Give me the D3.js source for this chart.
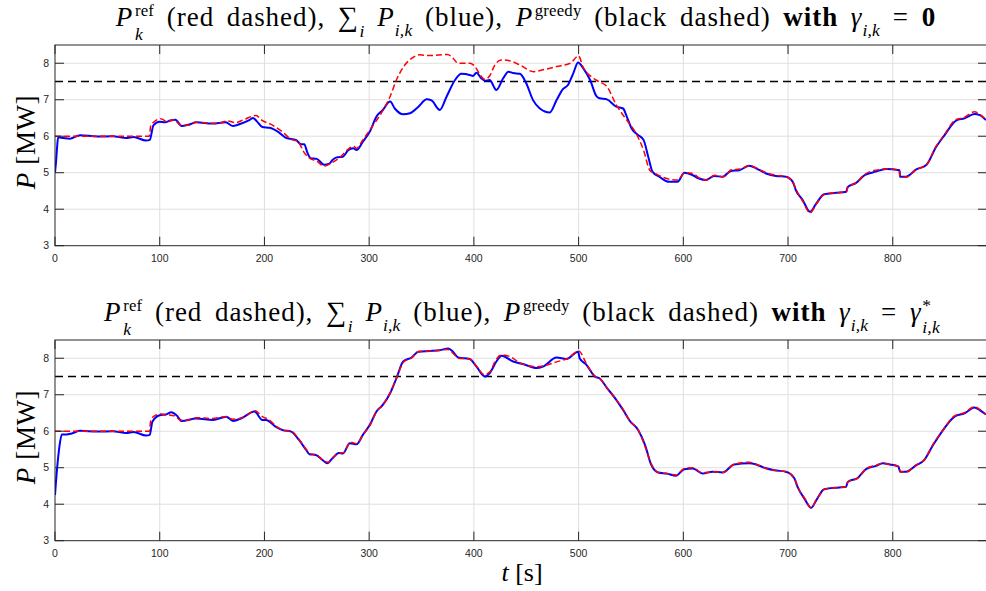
<!DOCTYPE html>
<html>
<head>
<meta charset="utf-8">
<script src="https://cdn.jsdelivr.net/npm/d3@7"></script>
<style>
  body { margin: 0; background: #fff; }
  text { white-space: pre; }
</style>
</head>
<body>
<svg id="chart"></svg>
<script>
// axis ticks
var xTicks = [0, 100, 200, 300, 400, 500, 600, 700, 800];
var yTicks = [3, 4, 5, 6, 7, 8];
var greedyLevel = 7.5;

// top panel: gamma = 0
var topRefT = [0, 90, 91.5, 95, 101, 107, 114, 120, 127, 135, 155, 165, 172, 180, 192, 197, 208, 218, 225, 232, 238, 243, 250, 257, 263, 272, 281, 285, 288, 294, 304, 313, 320, 326, 334, 342, 348, 358, 375, 380, 385, 396, 401, 406, 410.5, 415, 420, 426, 434, 444, 457, 466, 479, 492, 500, 504, 514, 519, 527, 536, 546, 554, 562, 568, 573, 581, 587, 595, 601, 609, 615, 622, 630, 638, 646, 654, 663, 669, 679, 689, 698, 704.5, 708, 714, 721, 727, 735, 746, 756, 757, 765, 773, 784, 794, 806, 807, 813, 822, 832, 841, 849, 860, 868, 878, 883, 889];
var topRefP = [6.0, 6.0, 6.3, 6.4, 6.48, 6.4, 6.45, 6.3, 6.3, 6.38, 6.35, 6.42, 6.37, 6.45, 6.57, 6.45, 6.3, 6.1, 5.92, 5.85, 5.55, 5.4, 5.32, 5.18, 5.25, 5.42, 5.67, 5.73, 5.67, 5.9, 6.31, 6.7, 7.09, 7.54, 7.95, 8.16, 8.23, 8.21, 8.24, 8.14, 8.0, 8.0, 7.91, 7.68, 7.56, 7.65, 7.95, 8.09, 8.07, 7.95, 7.77, 7.82, 7.91, 8.0, 8.2, 7.91, 7.59, 7.5, 7.36, 6.86, 6.44, 6.12, 5.62, 5.07, 4.98, 4.87, 4.82, 4.8, 5.0, 4.98, 4.86, 4.8, 4.93, 4.89, 5.08, 5.1, 5.2, 5.14, 5.0, 4.93, 4.89, 4.75, 4.52, 4.22, 3.9, 4.14, 4.41, 4.45, 4.48, 4.61, 4.72, 4.95, 5.07, 5.1, 5.07, 4.89, 4.88, 5.08, 5.21, 5.71, 6.03, 6.45, 6.51, 6.67, 6.6, 6.46];
var topSumT = [0, 1, 2, 3, 8, 14, 24, 40, 55, 68, 75, 87, 90.5, 94, 100, 105, 110, 115, 121, 128, 135, 150, 163, 170, 178, 186, 189, 193, 198, 205, 214, 221, 230, 235, 238, 241, 244, 250, 257, 262, 265, 269, 275, 280, 285, 288, 294, 300.5, 307, 313, 320, 324.5, 332.5, 339, 347, 355, 359.5, 367.5, 374, 382, 388, 396, 399, 402.5, 407, 410.5, 415, 421.5, 428, 433, 437.5, 444, 450, 456.5, 463, 472.5, 479, 485, 490, 495, 499.5, 504.5, 511, 517, 520, 527, 536, 542.5, 546, 550.5, 557, 562, 566.5, 570.5, 577, 586.5, 594.5, 601, 609, 615, 621.5, 629.5, 637.5, 645.5, 653.5, 663, 669.5, 679, 688.5, 698, 704.5, 707.5, 714, 721, 727, 734.5, 746, 755.5, 757, 765, 773, 784, 793.5, 806.5, 807, 812.5, 822.5, 832, 841.5, 849.5, 860.5, 868.5, 878, 883, 889];
var topSumP = [5.0, 5.3, 5.7, 5.97, 5.95, 5.93, 6.03, 5.99, 6.0, 5.95, 5.98, 5.88, 5.9, 6.3, 6.4, 6.38, 6.43, 6.45, 6.28, 6.32, 6.38, 6.35, 6.38, 6.28, 6.35, 6.45, 6.5, 6.4, 6.25, 6.23, 6.1, 5.95, 5.9, 5.78, 5.78, 5.55, 5.4, 5.38, 5.22, 5.25, 5.35, 5.42, 5.44, 5.62, 5.67, 5.62, 5.85, 6.12, 6.54, 6.72, 6.95, 6.76, 6.6, 6.63, 6.81, 7.01, 6.98, 6.72, 7.09, 7.54, 7.71, 7.68, 7.65, 7.74, 7.59, 7.52, 7.54, 7.27, 7.59, 7.77, 7.73, 7.71, 7.45, 6.99, 6.76, 6.65, 6.99, 7.29, 7.41, 7.73, 8.02, 7.86, 7.54, 7.1, 7.04, 7.01, 6.81, 6.76, 6.54, 6.22, 6.03, 5.9, 5.44, 5.03, 4.89, 4.75, 4.75, 5.0, 4.93, 4.84, 4.8, 4.91, 4.89, 5.05, 5.07, 5.19, 5.12, 4.98, 4.91, 4.89, 4.75, 4.52, 4.25, 3.93, 4.16, 4.41, 4.45, 4.48, 4.61, 4.72, 4.93, 5.03, 5.1, 5.07, 4.89, 4.89, 5.09, 5.21, 5.71, 6.03, 6.43, 6.49, 6.61, 6.58, 6.44];

// bottom panel: gamma = gamma*
var botRefT = [0, 90, 91.5, 95, 101, 107, 114, 120, 127, 135, 150, 163, 170, 180, 191, 198, 204, 212, 218, 226, 233, 240, 244, 250, 256, 261, 266, 272, 276, 282, 288, 294, 301, 307, 313, 320, 326, 333, 341, 347, 358, 368, 375, 380, 385, 396, 402, 410, 415, 421, 426, 434, 445, 460, 468, 479, 490, 500, 508, 516, 520, 527, 536, 543, 549, 557, 563, 570, 576, 584, 593, 601, 609, 618, 628, 638, 649, 663, 669, 677, 687, 698, 706, 709, 716, 722, 727, 735, 749, 756, 757, 767, 775, 784, 790, 797, 806, 807, 813, 822, 830, 838, 848, 859, 868, 878, 883, 889];
var botRefP = [6.0, 6.0, 6.3, 6.42, 6.47, 6.45, 6.42, 6.3, 6.3, 6.37, 6.35, 6.4, 6.33, 6.38, 6.56, 6.4, 6.32, 6.12, 6.03, 6.0, 5.78, 5.5, 5.38, 5.35, 5.2, 5.15, 5.3, 5.4, 5.42, 5.7, 5.66, 5.9, 6.17, 6.54, 6.72, 7.05, 7.45, 7.9, 8.02, 8.18, 8.2, 8.22, 8.24, 8.14, 8.0, 7.98, 7.8, 7.55, 7.62, 7.95, 8.09, 8.05, 7.86, 7.77, 7.8, 7.9, 8.0, 8.2, 7.82, 7.5, 7.45, 7.19, 6.86, 6.58, 6.28, 6.03, 5.62, 5.07, 4.87, 4.84, 4.8, 4.98, 5.0, 4.86, 4.89, 4.87, 5.1, 5.15, 5.1, 5.0, 4.93, 4.89, 4.72, 4.48, 4.16, 3.9, 4.11, 4.41, 4.46, 4.48, 4.61, 4.72, 4.98, 5.07, 5.12, 5.09, 5.03, 4.89, 4.88, 5.07, 5.21, 5.62, 6.03, 6.42, 6.5, 6.67, 6.6, 6.46];
var botSumT = [0, 2, 4, 6.5, 11, 16, 24, 40, 55, 68, 75, 87, 90.5, 93, 100, 106, 111, 116, 121, 135, 151, 163.5, 170, 179, 190.5, 198, 201.5, 211, 217.5, 225.5, 233, 240, 243, 249, 255.5, 260, 265, 271, 275, 281.5, 288, 294, 300.5, 307, 313, 320, 326, 332.5, 340.5, 347, 358, 367.5, 375.5, 380, 385, 396, 402.5, 410.5, 415, 421.5, 426.5, 437.5, 447, 460, 466, 479, 488.5, 499.5, 501, 507.5, 515.5, 520, 527, 536, 542.5, 549, 557, 563.5, 569.5, 576, 584, 593, 601, 609, 618.5, 628, 637.5, 648.5, 663, 669.5, 677.5, 687, 698, 706, 709, 715.5, 722, 727, 734.5, 749, 755.5, 757, 766.5, 774.5, 784, 790.5, 797, 805.5, 807, 812.5, 822.5, 830, 838.5, 848, 859, 868.5, 878, 883, 889];
var botSumP = [4.25, 4.98, 5.53, 5.91, 5.91, 5.94, 6.01, 5.99, 6.0, 5.95, 5.98, 5.88, 5.9, 6.26, 6.44, 6.46, 6.52, 6.44, 6.28, 6.35, 6.31, 6.4, 6.28, 6.37, 6.54, 6.31, 6.31, 6.12, 6.03, 5.99, 5.76, 5.48, 5.37, 5.35, 5.21, 5.12, 5.26, 5.4, 5.39, 5.67, 5.64, 5.9, 6.17, 6.54, 6.72, 7.04, 7.45, 7.91, 8.02, 8.18, 8.2, 8.22, 8.27, 8.18, 8.02, 7.98, 7.77, 7.5, 7.59, 7.91, 8.07, 7.91, 7.84, 7.73, 7.77, 8.02, 7.98, 8.18, 8.0, 7.82, 7.5, 7.45, 7.19, 6.86, 6.58, 6.28, 6.03, 5.62, 5.07, 4.87, 4.84, 4.78, 4.96, 4.98, 4.84, 4.89, 4.87, 5.09, 5.12, 5.09, 5.0, 4.93, 4.89, 4.71, 4.48, 4.16, 3.9, 4.11, 4.41, 4.46, 4.48, 4.61, 4.72, 4.96, 5.05, 5.12, 5.09, 5.03, 4.89, 4.89, 5.07, 5.21, 5.62, 6.03, 6.4, 6.49, 6.65, 6.58, 6.46];

var width = 986, height = 591;
var serif = "'Liberation Serif', 'DejaVu Serif', serif";
var sans = "'Liberation Sans', Arial, sans-serif";
var axisColor = '#262626';

var svg = d3.select('#chart').attr('width', width).attr('height', height);

// shared x scale, both panels use the same range
var x = d3.scaleLinear().domain([0, 890]).range([55, 987]);

function zip(ts, ps) {
    return ts.map(function (t, i) { return [t, ps[i]]; });
}

// lay out a line of "math" text piece by piece, then centre it.
// a piece with stack:true sits over/under the previous one (tspan in same text)
function drawMath(pieces, cx, y, size) {
    var g = svg.append('g').attr('font-family', serif).attr('fill', '#000');
    var cursor = 0, lastStart = 0, lastW = 0, lastDy = 0, lastText = null;
    pieces.forEach(function (p) {
        var fs = size * (p.sc || 1);
        var dy = (p.dy || 0) * size;
        if (p.stack) {
            var ts = lastText.append('tspan')
                .attr('font-size', fs)
                .attr('font-style', p.it ? 'italic' : 'normal')
                .attr('dx', -lastW).attr('dy', dy - lastDy)
                .text(p.s);
            var w = ts.node().getComputedTextLength();
            cursor = Math.max(cursor, lastStart + w);
            return;
        }
        var x0 = cursor + (p.gap || 0) * size;
        var small = (p.sc || 1) < 1;
        var t = g.append('text')
            .attr('x', x0)
            .attr('y', dy)
            .attr('font-size', fs)
            .attr('font-style', p.it ? 'italic' : 'normal')
            .attr('font-weight', p.b ? 'bold' : 'normal')
            .attr('letter-spacing', small ? 0.2 : 0.95)
            .attr('word-spacing', 5)
            .text(p.s);
        lastW = t.node().getComputedTextLength();
        lastStart = x0;
        lastDy = dy;
        lastText = t;
        cursor = x0 + lastW;
    });
    g.attr('transform', 'translate(' + (cx - cursor / 2) + ',' + y + ')');
}

function titlePieces(last) {
    var p = [
        {s: 'P', it: true},
        {s: 'ref', sc: 0.62, dy: -0.38, gap: 0.06},
        {s: 'k', it: true, sc: 0.65, dy: 0.5, stack: true},
        {s: ' (red dashed), '},
        {s: '\u2211', sc: 1.05},
        {s: 'i', it: true, sc: 0.65, dy: 0.4, gap: 0.02},
        {s: ' '},
        {s: 'P', it: true},
        {s: 'i,k', it: true, sc: 0.65, dy: 0.38},
        {s: ' (blue), '},
        {s: 'P', it: true},
        {s: 'greedy', sc: 0.62, dy: -0.38, gap: 0.06},
        {s: ' (black dashed) '},
        {s: 'with', b: true},
        {s: ' '},
        {s: '\u03b3', it: true},
        {s: 'i,k', it: true, sc: 0.65, dy: 0.38},
        {s: ' = '}
    ];
    return p.concat(last);
}

function drawPanel(top, refT, refP, sumT, sumP) {
    var bottom = top + 200.7;
    var y = d3.scaleLinear().domain([3, 8.5]).range([bottom, top]);
    var x0 = x.range()[0], x1 = x.range()[1];
    var g = svg.append('g');

    // grid
    g.selectAll('.gx').data(xTicks.slice(1)).enter().append('line')
        .attr('x1', function (d) { return x(d); }).attr('x2', function (d) { return x(d); })
        .attr('y1', top).attr('y2', bottom)
        .attr('stroke', '#dfdfdf').attr('stroke-width', 1);
    g.selectAll('.gy').data(yTicks.slice(1)).enter().append('line')
        .attr('x1', x0).attr('x2', x1)
        .attr('y1', function (d) { return y(d); }).attr('y2', function (d) { return y(d); })
        .attr('stroke', '#dfdfdf').attr('stroke-width', 1);

    var clipId = 'clip' + Math.round(top);
    svg.append('clipPath').attr('id', clipId).append('rect')
        .attr('x', x0).attr('y', top).attr('width', x1 - x0).attr('height', bottom - top);

    var line = d3.line()
        .x(function (d) { return x(d[0]); })
        .y(function (d) { return y(d[1]); })
        .curve(d3.curveMonotoneX);

    var lines = g.append('g').attr('clip-path', 'url(#' + clipId + ')');

    // greedy level
    lines.append('line')
        .attr('x1', x0).attr('x2', x1)
        .attr('y1', y(greedyLevel)).attr('y2', y(greedyLevel))
        .attr('stroke', '#000').attr('stroke-width', 1.5)
        .attr('stroke-dasharray', '8,5');

    lines.append('path').datum(zip(sumT, sumP))
        .attr('d', line).attr('fill', 'none')
        .attr('stroke', '#0000ff').attr('stroke-width', 2);

    lines.append('path').datum(zip(refT, refP))
        .attr('d', line).attr('fill', 'none')
        .attr('stroke', '#ff0000').attr('stroke-width', 1.5)
        .attr('stroke-dasharray', '6,3');

    // box
    g.append('rect').attr('x', x0).attr('y', top)
        .attr('width', x1 - x0).attr('height', bottom - top)
        .attr('fill', 'none').attr('stroke', axisColor).attr('stroke-width', 1);

    // inward ticks on all four sides
    xTicks.forEach(function (d) {
        g.append('line').attr('x1', x(d)).attr('x2', x(d)).attr('y1', bottom).attr('y2', bottom - 9)
            .attr('stroke', axisColor);
        g.append('line').attr('x1', x(d)).attr('x2', x(d)).attr('y1', top).attr('y2', top + 9)
            .attr('stroke', axisColor);
    });
    yTicks.forEach(function (d) {
        g.append('line').attr('x1', x0).attr('x2', x0 + 9).attr('y1', y(d)).attr('y2', y(d))
            .attr('stroke', axisColor);
        g.append('line').attr('x1', x1).attr('x2', x1 - 9).attr('y1', y(d)).attr('y2', y(d))
            .attr('stroke', axisColor);
    });

    // tick labels
    g.selectAll('.xl').data(xTicks).enter().append('text')
        .attr('x', function (d) { return x(d); }).attr('y', bottom + 16.5)
        .attr('text-anchor', 'middle')
        .attr('font-family', sans).attr('font-size', 10.5).attr('fill', axisColor)
        .text(function (d) { return d; });
    g.selectAll('.yl').data(yTicks).enter().append('text')
        .attr('x', x0 - 6).attr('y', function (d) { return y(d) + 3.7; })
        .attr('text-anchor', 'end')
        .attr('font-family', sans).attr('font-size', 10.5).attr('fill', axisColor)
        .text(function (d) { return d; });

    // y label
    var yl = g.append('text')
        .attr('transform', 'translate(35,' + (top + 97) + ')rotate(-90)')
        .attr('text-anchor', 'middle')
        .attr('font-family', serif).attr('font-size', 27).attr('fill', '#000')
        .attr('letter-spacing', 0.6);
    yl.append('tspan').attr('font-style', 'italic').text('P');
    yl.append('tspan').text(' [MW]');
}

drawPanel(45, topRefT, topRefP, topSumT, topSumP);
drawPanel(340, botRefT, botRefP, botSumT, botSumP);

drawMath(titlePieces([{s: '0', b: true}]), 526, 26, 27);
drawMath(titlePieces([
    {s: '\u03b3', it: true},
    {s: '*', sc: 0.65, dy: -0.36, gap: 0.03},
    {s: 'i,k', it: true, sc: 0.65, dy: 0.45, stack: true}
]), 522, 321, 27);

// x label
var xl = svg.append('text')
    .attr('x', 522).attr('y', 581)
    .attr('text-anchor', 'middle')
    .attr('font-family', serif).attr('font-size', 26).attr('fill', '#000');
xl.append('tspan').attr('font-style', 'italic').text('t');
xl.append('tspan').text(' [s]');
</script>
</body>
</html>
